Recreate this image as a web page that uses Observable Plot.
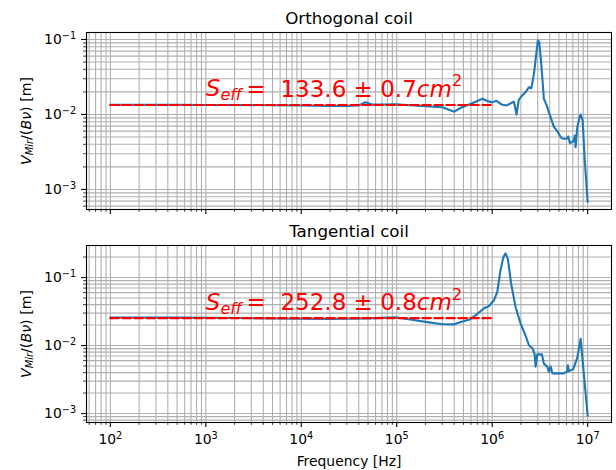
<!DOCTYPE html>
<html>
<head>
<meta charset="utf-8">
<script src="https://cdn.jsdelivr.net/npm/d3@7"></script>
<script src="https://cdn.jsdelivr.net/npm/@observablehq/plot@0.6"></script>
<style>
  body { margin: 0; background: #fff; }
  #wrap { position: relative; width: 616px; height: 470px; background: #fff; font-family: "DejaVu Sans"; }
  #wrap svg { position: absolute; left: 0; }
</style>
</head>
<body>
<div id="wrap"></div>
<script>
// ---- data ----
const orthoFreq = [100, 200, 500, 1e3, 2e3, 5e3, 1e4, 2e4, 3e4, 4e4, 4.7e4, 5.5e4, 7e4, 1e5, 1.5e5, 2e5, 3e5, 4e5, 4.7e5, 6e5, 7.9e5, 8.9e5, 1e6, 1.11e6, 1.25e6, 1.42e6, 1.58e6, 1.69e6, 1.8e6, 1.9e6, 2.02e6, 2.24e6, 2.43e6, 2.57e6, 2.74e6, 2.87e6, 3.01e6, 3.11e6, 3.27e6, 3.48e6, 3.72e6, 4.09e6, 4.44e6, 4.81e6, 5.21e6, 5.56e6, 6.03e6, 6.27e6, 6.53e6, 7.08e6, 7.36e6, 7.48e6, 7.8e6, 8.24e6, 8.45e6, 8.87e6, 9.33e6, 1e7];
const orthoV = [0.0135, 0.0135, 0.0135, 0.0134, 0.0134, 0.0133, 0.0132, 0.0130, 0.0130, 0.0132, 0.0146, 0.0136, 0.0136, 0.0137, 0.0132, 0.0129, 0.0125, 0.0109, 0.0123, 0.0139, 0.0162, 0.0151, 0.0145, 0.0152, 0.0136, 0.0132, 0.0142, 0.0148, 0.0100, 0.0157, 0.0174, 0.0199, 0.0231, 0.0224, 0.0348, 0.058, 0.097, 0.092, 0.047, 0.0162, 0.0132, 0.0092, 0.0068, 0.0060, 0.0050, 0.00474, 0.00474, 0.0051, 0.00415, 0.0044, 0.00525, 0.00366, 0.0068, 0.0092, 0.0100, 0.0083, 0.00244, 0.00068];

const tangFreq = [100, 200, 500, 1e3, 2e3, 5e3, 1e4, 2e4, 3e4, 5e4, 7e4, 1e5, 1.5e5, 2e5, 3e5, 4e5, 4.7e5, 5.9e5, 7e5, 8.2e5, 9.2e5, 1.04e6, 1.13e6, 1.22e6, 1.31e6, 1.38e6, 1.46e6, 1.58e6, 1.76e6, 1.99e6, 2.24e6, 2.43e6, 2.63e6, 2.78e6, 2.85e6, 2.97e6, 3.32e6, 3.48e6, 3.78e6, 3.93e6, 4.09e6, 4.27e6, 4.61e6, 5.64e6, 6.11e6, 6.21e6, 6.37e6, 7.08e6, 7.8e6, 8.45e6, 1e7];
const tangV = [0.0258, 0.0258, 0.0257, 0.0256, 0.0254, 0.0250, 0.0247, 0.0246, 0.0247, 0.0251, 0.0255, 0.0259, 0.0238, 0.0223, 0.0206, 0.0205, 0.0222, 0.0244, 0.0292, 0.0354, 0.0379, 0.0459, 0.0608, 0.127, 0.199, 0.227, 0.188, 0.081, 0.0366, 0.0208, 0.0140, 0.0100, 0.0092, 0.00755, 0.0049, 0.0074, 0.0074, 0.0054, 0.0049, 0.0041, 0.0049, 0.0039, 0.0039, 0.0039, 0.00418, 0.0051, 0.0042, 0.0045, 0.0067, 0.0125, 0.00093];

const seffValues = [0.01336, 0.02528];          // S_eff in m^2
const seffTexts = ["133.6 ± 0.7", "252.8 ± 0.8"];
const panelTitles = ["Orthogonal coil", "Tangential coil"];
const fitRange = [1e2, 1e6];
const xMajorTicks = [1e2, 1e3, 1e4, 1e5, 1e6, 1e7];
const yMajorTicks = [1e-3, 1e-2, 1e-1];
const xLabel = "Frequency [Hz]";

// ---- helpers ----
function logTicks(lo, hi, minorOnly) {
  const out = [];
  for (let e = Math.floor(Math.log10(lo)) - 1; e <= Math.ceil(Math.log10(hi)); e++) {
    for (let m = 1; m <= 9; m++) {
      if (minorOnly && m === 1) continue;
      const v = +(m * Math.pow(10, e)).toPrecision(6);
      if (v >= lo && v <= hi) out.push(v);
    }
  }
  return out;
}

const FONT = "DejaVu Sans";
const GRID = "#b0b0b0";
const xDomain = [Math.pow(10, 1.75), Math.pow(10, 7.25)];

function panel(opts) {
  const {freq, vals, s, seffText, title, yDomain, height, mt, mb, showXLabels, top} = opts;
  const data = freq.map((f, i) => ({f, v: vals[i]}));
  const fit = fitRange.map(f => ({f, v: s}));
  const gridX = logTicks(xDomain[0], xDomain[1], false);
  const gridY = logTicks(yDomain[0], yDomain[1], false);
  const minorX = logTicks(xDomain[0], xDomain[1], true);
  const minorY = logTicks(yDomain[0], yDomain[1], true);

  const marks = [
    Plot.ruleX(gridX, {stroke: GRID, strokeWidth: 1.1}),
    Plot.ruleY(gridY, {stroke: GRID, strokeWidth: 1.1}),
    Plot.line(data, {x: "f", y: "v", stroke: "#1f77b4", strokeWidth: 2.1}),
    Plot.line(fit, {x: "f", y: "v", stroke: "#ff0000", strokeWidth: 2.1, strokeDasharray: "8.5,3.5"}),
    Plot.text(["@SEFF@"], {x: 1e3, y: s * 1.3, text: d => d, textAnchor: "start", lineAnchor: "bottom", fill: "#ff0000", fontSize: 23}),
    Plot.axisY(yMajorTicks, {tickSize: 4.9, tickPadding: 5.5, strokeWidth: 1.1, fontSize: 13.9, label: null,
      tickFormat: d => "10^" + Math.round(Math.log10(d))}),
    Plot.axisY(minorY, {tickSize: 2.8, strokeWidth: 0.8, label: null, tickFormat: () => ""}),
    Plot.axisX(xMajorTicks, {tickSize: 4.9, tickPadding: 7, strokeWidth: 1.1, fontSize: 13.9, label: null,
      tickFormat: showXLabels ? (d => "10^" + Math.round(Math.log10(d))) : (() => "")}),
    Plot.axisX(minorX, {tickSize: 2.8, strokeWidth: 0.8, label: null, tickFormat: () => ""}),
    Plot.frame({stroke: "black", strokeWidth: 1.1}),
    Plot.text([title], {frameAnchor: "top", dy: -9, lineAnchor: "bottom", fontSize: 16.7, fill: "black"}),
    Plot.text(["@YLABEL@"], {frameAnchor: "left", dx: -56, rotate: -90, lineAnchor: "bottom", textAnchor: "middle", fontSize: 14.2, fill: "black"})
  ];
  if (showXLabels) {
    marks.push(Plot.text([xLabel], {frameAnchor: "bottom", dy: 43, lineAnchor: "bottom", fontSize: 13.9, fill: "black"}));
  }

  const svg = Plot.plot({
    width: 616, height,
    marginLeft: 86, marginRight: 5, marginTop: mt, marginBottom: mb,
    style: {fontFamily: FONT, fontSize: "13.9px", color: "black", background: "white", overflow: "visible"},
    x: {type: "log", domain: xDomain, axis: null, label: null},
    y: {type: "log", domain: yDomain, axis: null, label: null},
    marks
  });

  // rich text (sub/superscripts, italics)
  d3.select(svg).selectAll("text").each(function () {
    const t = this.textContent;
    const el = d3.select(this);
    const m = t.match(/^10\^(-?\d+)$/);
    if (m) {
      el.text(null);
      el.append("tspan").text("10");
      el.append("tspan").attr("font-size", "70%").attr("dy", "-0.5em").text(m[1].replace("-", "\u2212"));
    } else if (t === "@SEFF@") {
      el.text(null);
      el.append("tspan").attr("font-style", "italic").text("S");
      el.append("tspan").attr("font-style", "italic").attr("font-size", "70%").attr("dy", "0.22em").text("eff");
      el.append("tspan").attr("dy", "-0.15em").text("\u2009=\u00A0\u00A0" + seffText);
      el.append("tspan").attr("font-style", "italic").text("cm");
      el.append("tspan").attr("font-size", "72%").attr("dy", "-0.62em").text("2");
    } else if (t === "@YLABEL@") {
      el.text(null);
      el.append("tspan").attr("font-style", "italic").text("V");
      el.append("tspan").attr("font-style", "italic").attr("font-size", "70%").attr("dy", "0.22em").text("Mir");
      el.append("tspan").attr("dy", "-0.15em").text("/(");
      el.append("tspan").attr("font-style", "italic").text("B\u03BD");
      el.append("tspan").text(") [m]");
    }
  });
  svg.style.top = top + "px";
  return svg;
}

const wrap = document.getElementById("wrap");
wrap.appendChild(panel({
  freq: orthoFreq, vals: orthoV, s: seffValues[0], seffText: seffTexts[0], title: panelTitles[0],
  yDomain: [Math.pow(10, -3.267), Math.pow(10, -0.907)], height: 225, mt: 32, mb: 16, showXLabels: false, top: 0
}));
wrap.appendChild(panel({
  freq: tangFreq, vals: tangV, s: seffValues[1], seffText: seffTexts[1], title: panelTitles[1],
  yDomain: [Math.pow(10, -3.132), Math.pow(10, -0.529)], height: 245, mt: 20, mb: 48, showXLabels: true, top: 225
}));
</script>
</body>
</html>
